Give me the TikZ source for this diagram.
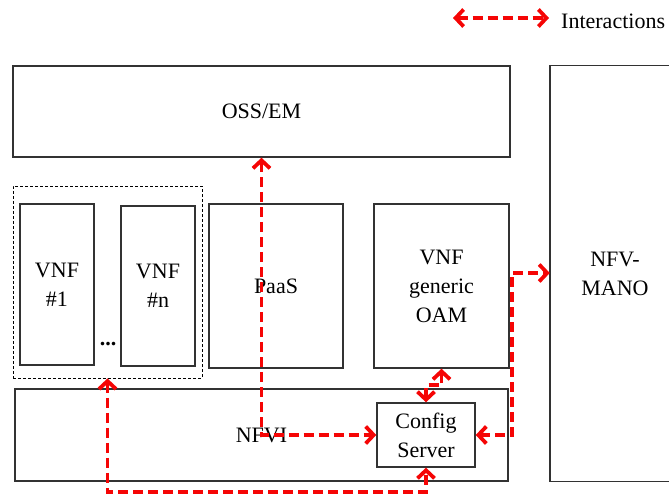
\documentclass[tikz,border=0pt]{standalone}
\usepackage{fontspec}
\setmainfont{Liberation Serif}
\usetikzlibrary{arrows.meta}
\definecolor{iared}{RGB}{245,5,5}
\definecolor{boxline}{RGB}{50,50,50}
\tikzset{
  blk/.style={draw=boxline, line width=1.4pt, rectangle, inner sep=0pt, align=center,
    font=\fontsize{22}{29}\selectfont},
  grp/.style={draw=black, line width=0.9pt, dash pattern=on 3pt off 2pt, rectangle, inner sep=0pt},
  ia/.style={draw=iared, line width=3.8pt, dash pattern=on 10pt off 5pt,
    {Straight Barb[length=8pt,width=17pt]}-{Straight Barb[length=8pt,width=17pt]}},
  lbl/.style={inner sep=0pt, font=\fontsize{22}{29}\selectfont}
}
\begin{document}
\begin{tikzpicture}[x=1pt,y=-1pt]
\useasboundingbox (0,0) rectangle (669,497);
\clip (0,0) rectangle (669,497);
% boxes
\node[blk, minimum width=497pt, minimum height=91pt] (oss) at (261.5,111.5) {OSS/EM};
\node[inner sep=0pt, minimum width=130pt, minimum height=415pt, align=center,
      font=\fontsize{22}{29}\selectfont] (mano) at (615,273.5) {NFV-\\MANO};
\draw[boxline, line width=1.4pt] (mano.north east) -- (mano.north west) -- (mano.south west) -- (mano.south east);
\node[grp, minimum width=189pt, minimum height=192pt] (group) at (107.5,282) {};
\node[blk, minimum width=74pt, minimum height=161pt] (vnf1) at (57,284.5) {VNF\\\#1};
\node[blk, minimum width=74pt, minimum height=160pt] (vnfn) at (158,286) {VNF\\\#n};
\node[lbl] (dots) at (108,344) {\textbf{...}};
\node[blk, minimum width=134pt, minimum height=164pt] (paas) at (276,286) {PaaS};
\node[blk, minimum width=135pt, minimum height=164pt] (oam) at (441.5,286) {VNF\\generic\\OAM};
\node[blk, minimum width=493pt, minimum height=92pt] (nfvi) at (261.5,435) {NFVI};
\node[blk, fill=white, minimum width=98pt, minimum height=64pt] (cfg) at (426,435) {Config\\Server};
% connectors
\coordinate (j1) at (261.5,435);
\draw[ia] (oss.south) -- (j1) -- (cfg.west);
\coordinate (j2) at (107.5,492);
\draw[ia] (group.south) -- (j2) -- (cfg.south |- j2) -- (cfg.south);
\coordinate (j3) at (512,273);
\draw[ia] (cfg.east) -| (j3) -- (j3 -| mano.west);
\draw[ia] (cfg.north) -- ++(0,-17) -| (oam.south);
% legend
\coordinate (la) at (453,18);
\coordinate (lb) at (549,18);
\node[lbl, anchor=west] (leg) at (561,21) {Interactions};
\draw[ia] (la) -- (lb);
\end{tikzpicture}
\end{document}
